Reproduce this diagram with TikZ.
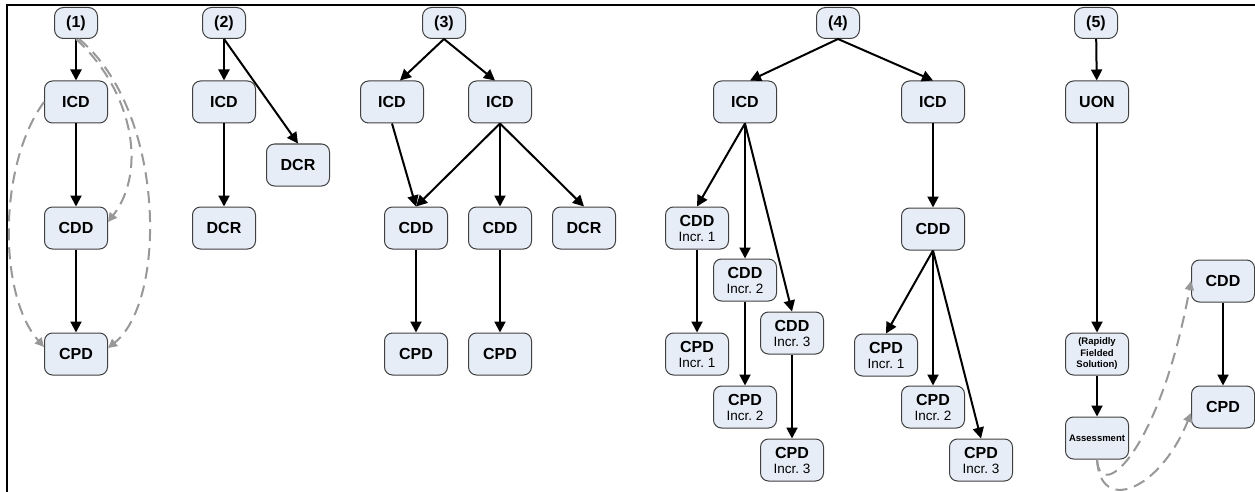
\documentclass[tikz,border=0pt]{standalone}
\usepackage{fontspec}
\setmainfont{Liberation Sans}
\usetikzlibrary{arrows.meta}
\definecolor{boxfill}{RGB}{231,237,247}
\definecolor{boxline}{RGB}{64,64,64}
\definecolor{dashgray}{RGB}{152,152,152}
\tikzset{
  docbox/.style={draw=boxline, fill=boxfill, line width=1pt, rounded corners=8pt,
    minimum width=63pt, minimum height=42pt, inner sep=1pt, align=center,
    font=\fontsize{16}{17}\selectfont\bfseries},
  numbox/.style={docbox, minimum width=43pt, minimum height=31pt, rounded corners=9pt},
  smallbox/.style={docbox, font=\fontsize{9.5}{11.5}\selectfont\bfseries},
  flow/.style={line width=2pt, -{Triangle[length=11pt,width=11pt]}},
  backarc/.style={draw=dashgray, line width=2pt, dash pattern=on 12pt off 7pt,
    -{Triangle[length=9pt,width=9pt,fill=dashgray]}}
}
\newcommand\incr[1]{\\[-2pt]{\normalfont\fontsize{13.5}{15}\selectfont Incr.~#1}}

\begin{document}
\begin{tikzpicture}[x=1pt, y=-1pt]
		%%%%% START %%%%%
		\useasboundingbox (0,0) rectangle (1255,492);
		\draw[line width=2pt] (1255,5) -- (6.7,5) -- (6.7,492);
		
		% (1)
		\node[numbox] (numA) at (76,23) {(1)};
		\node[docbox] (icdA) at (76,102) {ICD};
		\node[docbox] (cddA) at (76,228) {CDD};
		\node[docbox] (cpdA) at (76,354) {CPD};
		\draw[flow] (numA) -- (icdA);
		\draw[flow] (icdA) -- (cddA);
		\draw[flow] (cddA) -- (cpdA);
		\draw[backarc] (numA.south) .. controls (132,90) and (148,170) .. ([yshift=6pt]cddA.east);
		\draw[backarc] ([xshift=3pt]numA.south) .. controls (165,110) and (168,300) .. ([yshift=6pt]cpdA.east);
		\draw[backarc] (icdA.west) .. controls (-2,165) and (-2,295) .. ([yshift=7pt]cpdA.west);
		
		% (2)
		\node[numbox] (numB) at (224,23) {(2)};
		\node[docbox] (icdB) at (224,102) {ICD};
		\node[docbox] (dcrB) at (224,228) {DCR};
		\node[docbox] (dcrBs) at (298,165) {DCR};
		\draw[flow] (numB) -- (icdB);
		\draw[flow] (icdB) -- (dcrB);
		\draw[flow] (numB.south) -- (dcrBs.north);
		
		% (3)
		\node[numbox] (numC) at (444,23) {(3)};
		\node[docbox] (icdC1) at (392,102) {ICD};
		\node[docbox] (icdC2) at (500,102) {ICD};
		\node[docbox] (cddC1) at (416,228) {CDD};
		\node[docbox] (cddC2) at (500,228) {CDD};
		\node[docbox] (dcrC) at (584,228) {DCR};
		\node[docbox] (cpdC1) at (416,354) {CPD};
		\node[docbox] (cpdC2) at (500,354) {CPD};
		\draw[flow] (numC.south) -- ([xshift=8pt]icdC1.north);
		\draw[flow] (numC.south) -- ([xshift=-5pt]icdC2.north);
		\draw[flow] (icdC1.south) -- (cddC1.north);
		\draw[flow] (icdC2.south) -- (cddC1.north);
		\draw[flow] (icdC2.south) -- (cddC2.north);
		\draw[flow] (icdC2.south) -- (dcrC.north);
		\draw[flow] (cddC1) -- (cpdC1);
		\draw[flow] (cddC2) -- (cpdC2);
		
		% (4)
		\node[numbox] (numD) at (838,23) {(4)};
		\node[docbox] (icdD1) at (745,102) {ICD};
		\node[docbox] (icdD2) at (933,102) {ICD};
		\node[docbox] (cddD1) at (697,228) {CDD\incr{1}};
		\node[docbox] (cddD2) at (745,280) {CDD\incr{2}};
		\node[docbox] (cddD3) at (792,333) {CDD\incr{3}};
		\node[docbox] (cpdD1) at (697,354) {CPD\incr{1}};
		\node[docbox] (cpdD2) at (745,407) {CPD\incr{2}};
		\node[docbox] (cpdD3) at (792,460) {CPD\incr{3}};
		\node[docbox] (cddD4) at (933,229) {CDD};
		\node[docbox] (cpdD4) at (886,355) {CPD\incr{1}};
		\node[docbox] (cpdD5) at (933,407) {CPD\incr{2}};
		\node[docbox] (cpdD6) at (981,460) {CPD\incr{3}};
		\draw[flow] (numD.south) -- ([xshift=5pt]icdD1.north);
		\draw[flow] (numD.south) -- (icdD2.north);
		\draw[flow] (icdD1.south) -- (cddD1.north);
		\draw[flow] (icdD1.south) -- (cddD2.north);
		\draw[flow] (icdD1.south) -- (cddD3.north);
		\draw[flow] (cddD1) -- (cpdD1);
		\draw[flow] (cddD2) -- (cpdD2);
		\draw[flow] (cddD3) -- (cpdD3);
		\draw[flow] (icdD2) -- (cddD4);
		\draw[flow] (cddD4.south) -- (cpdD4.north);
		\draw[flow] (cddD4.south) -- (cpdD5.north);
		\draw[flow] (cddD4.south) -- (cpdD6.north);
		
		% (5)
		\node[numbox] (numE) at (1096,23) {(5)};
		\node[docbox] (uonE) at (1097,102) {UON};
		\node[smallbox] (rfsE) at (1097,354) {(Rapidly\\Fielded\\Solution)};
		\node[smallbox] (asmE) at (1097,438) {Assessment};
		\node[docbox] (cddE) at (1223,281) {CDD};
		\node[docbox] (cpdE) at (1223,407) {CPD};
		\draw[flow] (numE) -- (uonE);
		\draw[flow] (uonE) -- (rfsE);
		\draw[flow] (rfsE) -- (asmE);
		\draw[flow] (cddE) -- (cpdE);
		\draw[backarc] (asmE.south) .. controls (1100,505) and (1160,450) .. (cddE.west);
		\draw[backarc] (asmE.south) .. controls (1100,515) and (1160,490) .. ([yshift=-6pt]cpdE.west);
		
		%%%%% END %%%%%
\end{tikzpicture}
\end{document}
